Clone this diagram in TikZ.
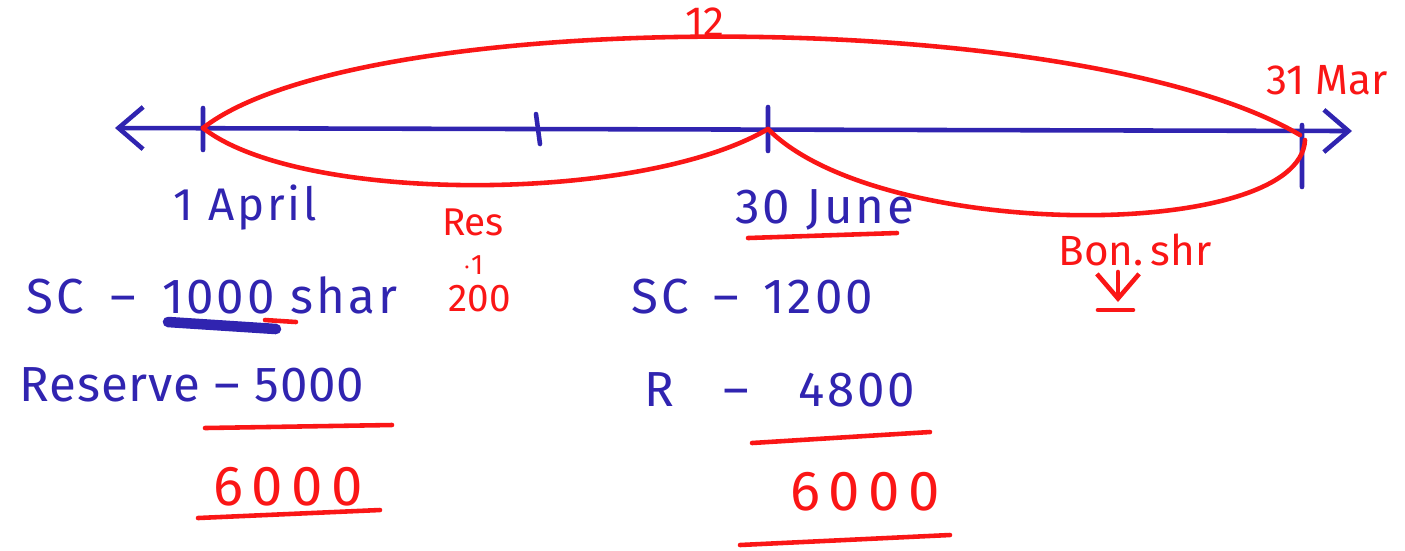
\documentclass[tikz,border=0pt]{standalone}
\usepackage{fontspec}
\setmainfont{Fira Sans}
\usetikzlibrary{arrows.meta}
\definecolor{penblue}{RGB}{48,36,176}
\definecolor{penred}{RGB}{250,22,22}
\tikzset{
  ink/.style={line width=1.3pt,line cap=round,line join=round},
  bluepen/.style={ink,draw=penblue},
  redpen/.style={ink,draw=penred},
  bluetxt/.style={text=penblue,font=\fontsize{14}{16}\selectfont\addfontfeature{LetterSpace=6},inner sep=1pt},
  redtxt/.style={text=penred,font=\fontsize{12}{14}\selectfont,inner sep=1pt},
  sumtxt/.style={text=penred,font=\fontsize{16}{18}\selectfont\addfontfeature{LetterSpace=15},inner sep=1pt},
}
\begin{document}
\begin{tikzpicture}[x=0.01cm,y=-0.01cm,>={Straight Barb[length=7pt,width=12pt]}]
	\useasboundingbox (0,0) rectangle (1405,550);
	% time line
	\coordinate (lend) at (115,128);
	\coordinate (rend) at (1352,131);
	\coordinate (apr) at (203,128);
	\coordinate (mid) at (540,128);
	\coordinate (jun) at (768,129);
	\coordinate (mar) at (1302,131);
	\draw[bluepen,<->] (lend)--(rend);
	\draw[bluepen] (apr) ++(0,-20)--++(0,42) (mid) ++(-4,-14)--++(4,30) (jun) ++(0,-22)--++(0,44) (mar) ++(0,-6)--++(0,62);
	% arcs
	\draw[redpen] (apr) .. controls (360,5) and (1080,5) .. (1300,135);
	\draw[redpen] (apr) .. controls (300,204) and (640,204) .. (jun);
	\draw[redpen] (jun) .. controls (880,242) and (1300,242) .. (1305,140);
	\node[redtxt] (twelve) at (705,22) {12};
	\node[redtxt] (marlbl) at (1327,80) {31 Mar};
	% left column
	\node[bluetxt,font=\fontsize{13}{15}\selectfont\addfontfeature{LetterSpace=6}] (aprlbl) at (245,208) {1 April};
	\node[bluetxt,anchor=west] (scone) at (22,295) {SC\hspace{3pt} -- \hspace{3pt}1000 shar};
	\node[bluetxt,anchor=west,font=\fontsize{14}{16}\selectfont\addfontfeature{LetterSpace=2}] (resone) at (15,385) {Reserve -- 5000};
	\node[sumtxt] (totone) at (288,487) {6000};
	\draw[bluepen,line width=3pt] (168,322)--(276,329);
	\draw[redpen] (265,320)--(296,322);
	\draw[redpen] (205,428)--(392,425);
	\draw[redpen] (198,518)--(380,510);
	% reserve note
	\node[redtxt,inner sep=0pt,font=\fontsize{11}{12}\selectfont] (reslbl) at (473,222) {Res};
	\node[redtxt,inner sep=0pt,font=\fontsize{8}{9}\selectfont] (ratio) at (473,265) {$\cdot$1};
	\node[redtxt,inner sep=0pt,font=\fontsize{11}{12}\selectfont] (two) at (480,299) {200};
	% right column
	\node[bluetxt] (junlbl) at (825,210) {30 June};
	\draw[redpen] (748,238)--(897,233);
	\node[bluetxt,anchor=west] (sctwo) at (627,297) {SC\enspace--\enspace1200};
	\node[bluetxt,anchor=west] (restwo) at (640,390) {R\quad--\quad4800};
	\draw[redpen] (752,443)--(930,432);
	\node[sumtxt] (tottwo) at (865,492) {6000};
	\draw[redpen] (740,545)--(950,535);
	% bonus
	\node[redtxt] (bonus) at (1135,250) {Bon.\,shr};
	\coordinate (bontop) at (1118,272);
	\coordinate (bonfoot) at (1118,302);
	\draw[redpen,->] (bontop)--(bonfoot);
	\draw[redpen] (1098,310)--(1133,310);
\end{tikzpicture}
\end{document}
